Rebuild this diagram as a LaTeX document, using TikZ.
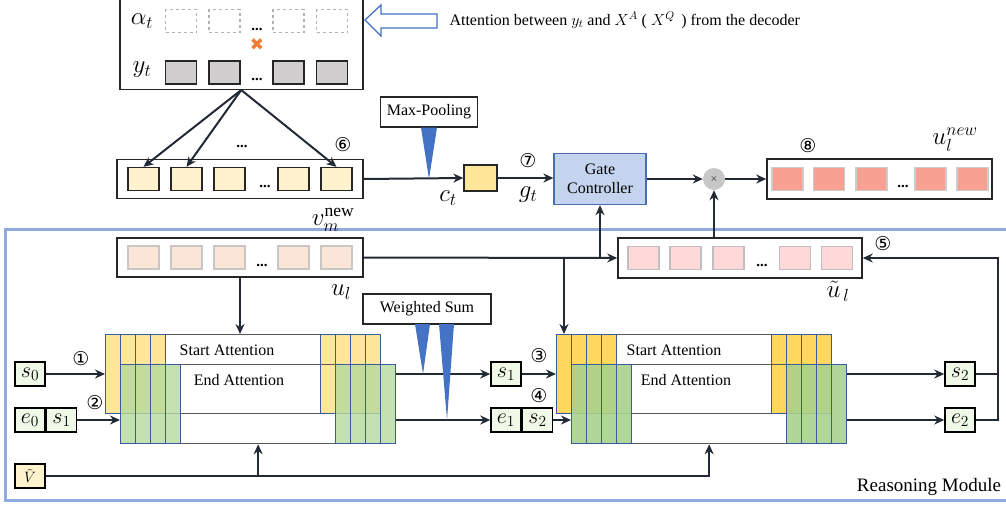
\documentclass[tikz,border=0pt]{standalone}
\usepackage{fix-cm}
\usepackage{fontspec}
\usepackage{amsmath}
\setmainfont{Liberation Serif}
\newfontfamily\circfont{DejaVu Sans}
\usetikzlibrary{arrows.meta,positioning,calc}

\definecolor{linec}{HTML}{222A35}
\definecolor{bluetri}{HTML}{4472C4}
\definecolor{framec}{HTML}{8FAADC}
\definecolor{gatefill}{HTML}{C5D4EE}
\definecolor{gatedraw}{HTML}{4A6DB0}
\definecolor{vcell}{HTML}{FFF2CC}
\definecolor{ccell}{HTML}{FFE699}
\definecolor{ucell}{HTML}{FBE5D6}
\definecolor{utcell}{HTML}{FFD9D9}
\definecolor{uncell}{HTML}{F8A193}
\definecolor{ycell}{HTML}{D0CECE}
\definecolor{yelA}{HTML}{FFE699}
\definecolor{yelB}{HTML}{FFD75E}
\definecolor{grnA}{HTML}{B5D99C}
\definecolor{grnB}{HTML}{A9D18E}
\definecolor{colline}{HTML}{3A5C9E}
\definecolor{sfill}{HTML}{F0F8E8}
\definecolor{orangex}{HTML}{ED7D31}

\begin{document}
\begin{tikzpicture}[x=1pt,y=-1pt,
    line/.style={draw=linec, line width=2pt},
    arr/.style={line, -{Stealth[length=10pt,width=9pt]}},
    box/.style={draw=black!85, line width=1.5pt, fill=white, inner sep=0pt},
    cell/.style={draw=black!85, line width=1.3pt, minimum width=31pt, minimum height=23pt, inner sep=0pt},
    softcell/.style={draw=black!25, line width=1.3pt, minimum width=31pt, minimum height=23pt, inner sep=0pt},
    tok/.style={draw=black, line width=1.5pt, minimum width=30pt, minimum height=24pt, inner sep=0pt, font=\fontsize{22}{22}\selectfont},
    txt/.style={font=\fontsize{16}{19}\selectfont},
    mth/.style={font=\fontsize{25}{27}\selectfont, inner sep=1pt},
    num/.style={font=\circfont\fontsize{19}{19}\selectfont, inner sep=0pt},
    dots/.style={font=\bfseries\fontsize{15}{15}\selectfont, inner sep=0pt},
    attn/.style={draw=black!65, line width=1.3pt, minimum width=275pt, minimum height=79pt, inner sep=0pt},
    col/.style={draw=colline, line width=0.8pt}
  ]
  \useasboundingbox (0,0) rectangle (1006,506);

  % reasoning module frame
  \draw[framec, line width=3pt] (5,229) rectangle (1015,500);
  \node[font=\fontsize{19}{19}\selectfont] (rm) at (929,487) {Reasoning Module};

  % decoder attention box
  \node[box, minimum width=243pt, minimum height=94pt, anchor=south west] (ybox) at (119,90) {};
  \node[mth] (alab) at (142,21) {$\alpha_t$};
  \node[mth] (ylab) at (142,70) {$y_t$};
  \foreach \x [count=\k] in {181,224.5,288.5,332} {
    \node[softcell, dashed, draw=black!30] (a\k) at (\x,21) {};
    \node[cell, fill=ycell] (y\k) at (\x,72.5) {};
  }
  \node[dots] (adots) at (257,29) {...};
  \node[dots] (ydots) at (257,79) {...};
  \node[text=orangex, font=\circfont\fontsize{17}{17}\selectfont, inner sep=0pt] (cross) at (257,45) {✖};

  \draw[bluetri, line width=1.3pt, fill=white] (365,20) -- (381,5) -- (381,14) -- (437,14)
    -- (437,28) -- (381,28) -- (381,36) -- cycle;
  \node[font=\fontsize{16}{18}\selectfont, anchor=west] (atxt) at (446,20)
    {Attention between $y_t$ and $X^A$ ( $X^Q$\, ) from the decoder};

  % v_m^new
  \node[box, minimum width=246pt, minimum height=39pt] (vbox) at (240,179) {};
  \foreach \x [count=\k] in {143.5,186.5,229.5,293.5,336.5}
    \node[cell, fill=vcell] (v\k) at (\x,179) {};
  \node[dots] (vdots) at (265,186) {...};
  \node[dots] (tdots) at (242,146) {...};
  \node[num] (n6) at (343,145) {⑥};
  \node[mth] (vlab) at (333,220) {$v_m^{\text{new}}$};
  \draw[arr] (ybox.south) -- (v1.north);
  \draw[arr] (ybox.south) -- (v2.north);
  \draw[arr] (ybox.south) -- (v5.north);

  % pooling and gate
  \node[cell, fill=ccell, minimum width=33pt, minimum height=26pt] (cbox) at (480.5,178) {};
  \node[box, line width=1.2pt, minimum width=97pt, minimum height=30pt, txt] (mp) at (429,112) {Max-Pooling};
  \node[mth] (clab) at (448,198) {$c_t$};
  \node[num] (n7) at (528,161) {⑦};
  \node[mth] (glab) at (528,195) {$g_t$};
  \node[draw=gatedraw, line width=1.3pt, fill=gatefill, minimum width=92pt, minimum height=51pt,
    align=center, txt] (gate) at (600,179) {Gate\\Controller};
  \node[circle, fill=black!22, minimum size=22pt, inner sep=0pt] (mul) at (714,179) {$\times$};

  % u_l^new
  \node[box, minimum width=225pt, minimum height=40pt] (unew) at (879.5,179) {};
  \foreach \x [count=\k] in {787.5,829,871.5,930.5,972.5}
    \node[softcell, fill=uncell, draw=black!20] (n\k) at (\x,179) {};
  \node[dots] (ndots) at (903,186) {...};
  \node[num] (n8) at (808,146) {⑧};
  \node[mth] (nlab) at (955,140) {$u_l^{new}$};

  % u_l and tilde u_l
  \node[box, minimum width=246pt, minimum height=39pt] (ul) at (240,257.5) {};
  \foreach \x [count=\k] in {143.5,186.5,229.5,293.5,336.5}
    \node[softcell, fill=ucell, draw=black!22] (u\k) at (\x,257.5) {};
  \node[dots] (udots) at (262,265) {...};
  \node[mth] (ulab) at (341,292) {$u_l$};
  \node[box, minimum width=244pt, minimum height=40pt] (ut) at (740,258) {};
  \foreach \x [count=\k] in {643.5,685.5,728.5,795,837}
    \node[softcell, fill=utcell, draw=black!25] (t\k) at (\x,258) {};
  \node[dots] (utdots) at (762,265) {...};
  \node[mth] (utlab) at (838,291) {$\tilde{u}_{\,l}$};
  \node[num] (n5) at (883,244) {⑤};

  % attention block 1
  \node[attn, fill=white, anchor=north west] (sa1) at (105,334) {};
  \foreach \i in {0,...,3} {
    \draw[col, fill=yelA] (105+15*\i,334) rectangle ++(15,79);
    \draw[col, fill=yelA] (320+15*\i,334) rectangle ++(15,79);
  }
  \node[attn, anchor=north west] (ea1) at (120,364) {};
  \foreach \i in {0,...,3} {
    \draw[col, fill=grnA, fill opacity=0.8] (120+15*\i,364) rectangle ++(15,79);
    \draw[col, fill=grnA, fill opacity=0.8] (335+15*\i,364) rectangle ++(15,79);
  }
  \node[txt] (st1) at (227,350) {Start Attention};
  \node[txt] (en1) at (239,380) {End Attention};

  % attention block 2
  \node[attn, fill=white, anchor=north west] (sa2) at (556,334) {};
  \foreach \i in {0,...,3} {
    \draw[col, fill=yelB] (556+15*\i,334) rectangle ++(15,79);
    \draw[col, fill=yelB] (771+15*\i,334) rectangle ++(15,79);
  }
  \node[attn, anchor=north west] (ea2) at (571,364) {};
  \foreach \i in {0,...,3} {
    \draw[col, fill=grnB, fill opacity=0.9] (571+15*\i,364) rectangle ++(15,79);
    \draw[col, fill=grnB, fill opacity=0.9] (786+15*\i,364) rectangle ++(15,79);
  }
  \node[txt] (st2) at (674,350) {Start Attention};
  \node[txt] (en2) at (686,380) {End Attention};

  % pointers
  \node[tok, fill=sfill] (s0) at (30,374) {$s_0$};
  \node[tok, fill=sfill] (e0) at (30,420) {$e_0$};
  \node[tok, fill=sfill, right=0pt of e0] (s1a) {$s_1$};
  \node[tok, fill=vcell, font=\fontsize{15}{15}\selectfont] (vt) at (30,476) {$\tilde{V}$};
  \node[tok, fill=sfill] (s1) at (506,374) {$s_1$};
  \node[tok, fill=sfill] (e1) at (506,420) {$e_1$};
  \node[tok, fill=sfill, right=0pt of e1] (s2a) {$s_2$};
  \node[tok, fill=sfill] (s2) at (960,374) {$s_2$};
  \node[tok, fill=sfill] (e2) at (960,420) {$e_2$};
  \node[num] (n1) at (81,359) {①};
  \node[num] (n2) at (95,403) {②};
  \node[num] (n3) at (539,356) {③};
  \node[num] (n4) at (539,396) {④};

  \node[box, line width=1.2pt, minimum width=128pt, minimum height=30pt, txt] (ws) at (427,309) {Weighted Sum};

  % connectors
  \draw[arr] (vbox.east) -- (cbox.west);
  \draw[arr] (cbox.east) -- (cbox.east -| gate.west);
  \draw[arr] (gate.east) -- (mul.west);
  \draw[arr] (mul.east) -- (unew.west);
  \draw[arr] (ul.east) -- (ut.west);
  \coordinate (dn) at (564,257.5);
  \coordinate (up) at (600,257.5);
  \draw[arr] (dn) -- (dn |- sa2.north);
  \draw[arr] (up) -- (gate.south);
  \draw[arr] (ul.south) -- (ul.south |- sa1.north);
  \draw[arr] (mul |- ut.north) -- (mul.south);
  \draw[arr] (s0) -- (s0 -| sa1.west);
  \draw[arr] (s1a) -- (s1a -| ea1.west);
  \draw[arr] (ea1.east |- s1) -- (s1);
  \draw[arr] (ea1.east |- e1) -- (e1);
  \draw[arr] (s1) -- (s1 -| sa2.west);
  \draw[arr] (s2a) -- (s2a -| ea2.west);
  \draw[arr] (ea2.east |- s2) -- (s2);
  \draw[arr] (ea2.east |- e2) -- (e2);
  \coordinate (lp) at (998,258);
  \draw[line] (s2) -- (s2 -| lp);
  \draw[arr] (e2) -| (lp) -- (ut.east);
  \draw[arr] (vt) -| (ea2.south);
  \draw[arr] (vt -| ea1.south) -- (ea1.south);

  % pooling / summing wedges
  \fill[bluetri] ($(mp.south)+(-8,0)$) -- ($(mp.south)+(8,0)$) -- (mp.south |- vbox.east) -- cycle;
  \fill[bluetri] (415,324) -- (430,324) -- (423,374) -- cycle;
  \fill[bluetri] (439,324) -- (454,324) -- (447,420) -- cycle;
\end{tikzpicture}
\end{document}
